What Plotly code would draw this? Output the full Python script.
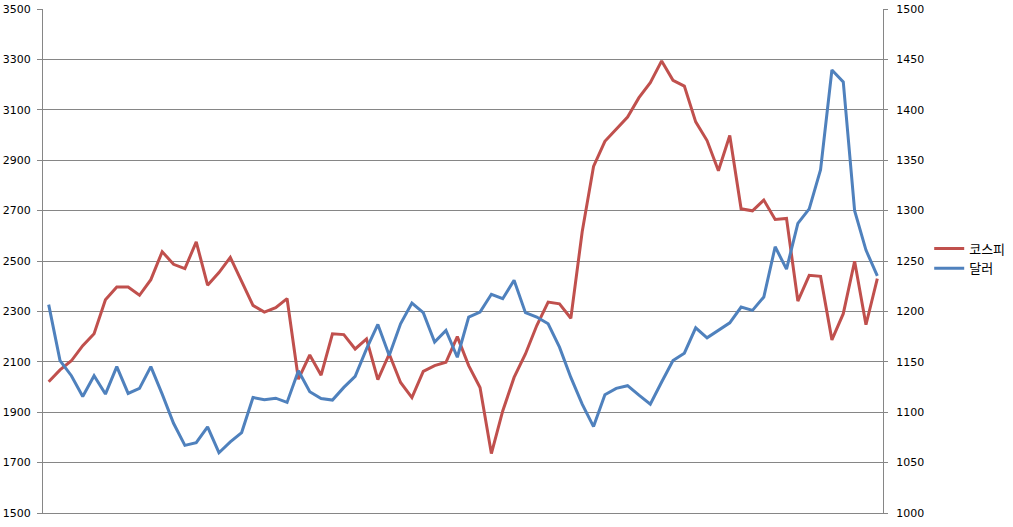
import plotly.graph_objects as go

periods = list(range(74))

kospi = [2021, 2068, 2104, 2164, 2211, 2346, 2397, 2397, 2364, 2426,
         2537, 2487, 2470, 2576, 2404, 2454, 2514, 2420, 2324, 2297,
         2315, 2351, 2031, 2127, 2047, 2211, 2208, 2151, 2191, 2029,
         2131, 2018, 1958, 2062, 2085, 2098, 2200, 2085, 1998, 1736,
         1905, 2038, 2131, 2244, 2337, 2330, 2273, 2616, 2875, 2975,
         3022, 3071, 3148, 3208, 3294, 3217, 3194, 3052, 2978, 2858,
         2998, 2707, 2699, 2742, 2665, 2669, 2341, 2443, 2439, 2187,
         2291, 2499, 2247, 2430]

dollar = [1206.7, 1151.2, 1136.2, 1115.6, 1136.2, 1118.0, 1145.2, 1118.6, 1123.6, 1145.2,
          1118.0, 1089.0, 1067.1, 1069.8, 1085.4, 1059.8, 1070.5, 1079.8, 1114.6, 1112.3,
          1113.9, 1109.7, 1141.2, 1120.3, 1113.6, 1112.0, 1124.6, 1135.6, 1162.8, 1187.1,
          1156.2, 1187.7, 1208.3, 1198.7, 1169.5, 1181.1, 1154.5, 1194.4, 1199.4, 1217.0,
          1212.6, 1230.9, 1198.7, 1194.4, 1187.7, 1164.5, 1134.5, 1108.0, 1085.7, 1117.3,
          1123.6, 1126.3, 1116.9, 1108.0, 1130.0, 1151.2, 1158.5, 1183.7, 1173.8, 1181.1,
          1188.7, 1204.3, 1201.0, 1214.3, 1264.1, 1241.9, 1287.4, 1301.7, 1340.5, 1439.5,
          1427.6, 1300.0, 1260.8, 1235.2]

left_ticks = list(range(1500, 3501, 200))
right_ticks = list(range(1000, 1501, 50))

RED = "#C0504D"
BLUE = "#4F81BD"
GRID = "#868686"
FONT = "DejaVu Sans, Noto Sans CJK KR, sans-serif"

fig = go.Figure()
fig.add_trace(go.Scatter(x=periods, y=kospi, name="코스피", mode="lines",
                         line=dict(color=RED, width=3), yaxis="y"))
fig.add_trace(go.Scatter(x=periods, y=dollar, name="달러", mode="lines",
                         line=dict(color=BLUE, width=3), yaxis="y2"))

fig.update_layout(
    width=1013, height=527,
    margin=dict(l=43, r=130, t=9, b=14, autoexpand=False),
    paper_bgcolor="white", plot_bgcolor="white",
    font=dict(family=FONT, size=11, color="black"),
    showlegend=True,
    legend=dict(x=1.055, y=0.505, xanchor="left", yanchor="middle",
                font=dict(size=13, family=FONT), bgcolor="rgba(0,0,0,0)",
                tracegroupgap=0),
    xaxis=dict(range=[-0.5, 73.5], showticklabels=False, showgrid=False,
               zeroline=False, showline=True, linecolor=GRID, linewidth=1,
               ticks="", automargin=False),
    yaxis=dict(range=[1500, 3500], tickvals=left_ticks, showgrid=True,
               gridcolor=GRID, gridwidth=1, zeroline=False, showline=True,
               linecolor=GRID, linewidth=1, ticks="outside", ticklen=5,
               tickcolor=GRID, tickfont=dict(size=11), automargin=False,
               ticklabelstandoff=4),
    yaxis2=dict(range=[1000, 1500], tickvals=right_ticks, overlaying="y",
                side="right", showgrid=False, zeroline=False, showline=True,
                linecolor=GRID, linewidth=1, ticks="outside", ticklen=4,
                tickcolor=GRID, tickfont=dict(size=11), automargin=False,
                ticklabelstandoff=6),
)

fig.write_html("out.html",
               config={"displayModeBar": False},
               post_script="document.body.style.margin='0';")
